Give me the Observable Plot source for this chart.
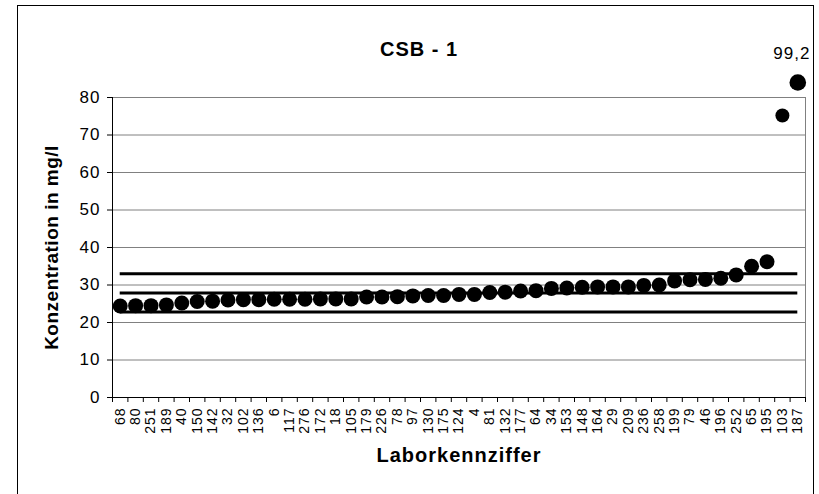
<!DOCTYPE html>
<html>
<head>
<meta charset="utf-8">
<script src="https://cdn.jsdelivr.net/npm/d3@7"></script>
<script src="https://cdn.jsdelivr.net/npm/@observablehq/plot@0.6"></script>
<style>
  html, body { margin: 0; padding: 0; background: #fff; }
  svg { font-family: "Liberation Sans", Arial, sans-serif; }
</style>
</head>
<body>
<div id="chart"></div>
<script>
const title = "CSB - 1";
const yLabel = "Konzentration in mg/l";
const xLabel = "Laborkennziffer";

const labs = ["68","80","251","189","40","150","142","32","102","136","6","117","276","172","18",
  "105","179","226","78","97","130","175","124","4","81","132","177","64","34","153",
  "148","164","29","209","236","258","199","79","46","196","252","65","195","103","187"];

const values = [24.4,24.5,24.5,24.7,25.2,25.6,25.7,26.0,26.1,26.1,26.2,26.2,26.2,26.3,26.3,
  26.3,26.8,26.8,26.9,27.1,27.2,27.2,27.5,27.5,28.0,28.1,28.4,28.5,29.1,29.2,
  29.4,29.5,29.5,29.5,29.9,30.0,31.1,31.4,31.5,31.8,32.7,35.0,36.2,75.2,99.2];

// value drawn for the off-scale laboratory (displayed above the axis top, labelled with its true value)
const offScaleDisplay = 84;
const offScaleText = "99,2";

const limits = [22.8, 27.9, 33.0];
const yTicks = [0,10,20,30,40,50,60,70,80];

const n = labs.length;
const pts = labs.map((l, i) => ({
  i: i + 0.5,
  lab: l,
  v: values[i],
  shown: values[i] > 80 ? offScaleDisplay : values[i],
  big: values[i] > 80,
  mid: values[i] > 60 && values[i] <= 80
}));

const chart = Plot.plot({
  width: 819,
  height: 494,
  marginLeft: 112,
  marginRight: 14,
  marginTop: 97,
  marginBottom: 97,
  style: { fontFamily: "Liberation Sans, Arial, sans-serif", background: "#fff", color: "#000" },
  x: { type: "linear", domain: [0, n], axis: null },
  y: { type: "linear", domain: [0, 80], axis: null },
  marks: [
    Plot.gridY(yTicks, { stroke: "#808080", strokeOpacity: 1, strokeWidth: 1 }),
    Plot.ruleX([n], { y1: 0, y2: 80, stroke: "#808080", strokeWidth: 1 }),
    Plot.ruleY(limits, { x1: 0.5, x2: n - 0.5, stroke: "#000", strokeWidth: 3 }),
    Plot.dot(pts.filter(d => !d.big && !d.mid), { x: "i", y: "shown", r: 7.5, fill: "#000", stroke: "none" }),
    Plot.dot(pts.filter(d => d.mid), { x: "i", y: "shown", r: 7, fill: "#000", stroke: "none" }),
    Plot.dot(pts.filter(d => d.big), { x: "i", y: "shown", r: 8.3, fill: "#000", stroke: "none" }),
    Plot.text(pts.filter(d => d.big), { x: "i", y: "shown", text: () => offScaleText, dx: -6, dy: -29, fontSize: 17, fill: "#000" }),
    Plot.ruleX([0], { y1: 0, y2: 80, stroke: "#000", strokeWidth: 1 }),
    Plot.ruleY([0], { stroke: "#000", strokeWidth: 1 }),
    Plot.axisY(yTicks, { tickSize: 5, tickPadding: 7, fontSize: 17, label: null, stroke: "#000" }),
    Plot.axisX(d3.range(0, n + 1), { tickSize: 5, tickFormat: () => "", label: null, stroke: "#000" }),
    Plot.axisX(pts.map(d => d.i), {
      tickSize: 0, tickPadding: 10, tickRotate: -90, fontSize: 14,
      tickFormat: d => labs[Math.floor(d)], label: null, fill: "#000"
    }),
    Plot.text([yLabel], { frameAnchor: "left", textAnchor: "middle", dx: -61, rotate: -90, fontSize: 19, fontWeight: "bold", fill: "#000" }),
    Plot.text([xLabel], { frameAnchor: "bottom", textAnchor: "middle", dy: 64, fontSize: 20, fontWeight: "bold", fill: "#000" }),
    Plot.text([title], { frameAnchor: "top", textAnchor: "middle", dx: -40, dy: -56, fontSize: 20, fontWeight: "bold", fill: "#000" })
  ]
});

// slight letter spacing to mimic the wide text rendering of the original
const spacing = { [title]: 1, [xLabel]: 1, [yLabel]: 0.5, [offScaleText]: 1 };
d3.select(chart).selectAll("text").each(function () {
  const t = this.textContent;
  const parent = this.parentNode && this.parentNode.getAttribute("aria-label");
  let s;
  if (t in spacing) s = spacing[t];
  else if (parent && parent.startsWith("y-axis")) s = 1;
  else if (parent && parent.startsWith("x-axis")) s = 1;
  if (s != null) d3.select(this).style("letter-spacing", s + "px");
});

d3.select(chart).insert("rect", ":first-child")
  .attr("x", 17.5).attr("y", 5.5).attr("width", 796).attr("height", 494)
  .attr("fill", "none").attr("stroke", "#000").attr("stroke-width", 1);

document.getElementById("chart").appendChild(chart);
</script>
</body>
</html>
